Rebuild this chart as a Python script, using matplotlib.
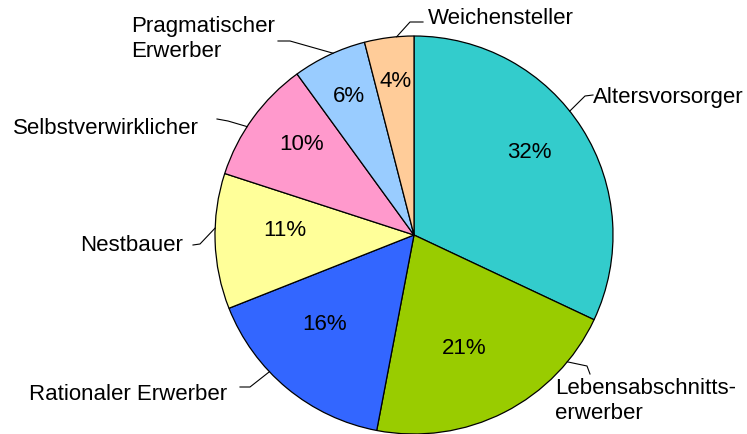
import numpy as np
import matplotlib.pyplot as plt

plt.rcParams['font.family'] = ['Liberation Sans', 'DejaVu Sans']

segmente = ['Altersvorsorger', 'Lebensabschnitts-\nerwerber', 'Rationaler Erwerber',
            'Nestbauer', 'Selbstverwirklicher', 'Pragmatischer\nErwerber', 'Weichensteller']
anteile = [32, 21, 16, 11, 10, 6, 4]
farben = ['#33CCCC', '#99CC00', '#3366FF', '#FFFF99', '#FF99CC', '#99CCFF', '#FFCC99']

# layout in pixel units (y measured from the bottom)
W, H = 747, 435
cx, cy, rad = 414, 199, 199
# percentage labels: radius fraction, angle shift from the wedge middle (deg)
pct_lage = [(0.72, 4.1), (0.61, -2.6), (0.625, -6.1), (0.65, -5.3),
            (0.735, -3.5), (0.78, -0.5), (0.79, -0.6)]
# label anchor (x, y, ha), angle where the leader meets the rim, knee, end
beschriftung = [
    ((593, 338, 'left'), 38.5, (585, 338), (593, 339)),
    ((555, 34, 'left'), -39.6, (587, 68), (590, 60)),
    ((29, 40, 'left'), 223.4, (250, 47), (240, 47)),
    ((183, 189, 'right'), 178, (200, 190), (193, 189)),
    ((13, 307, 'left'), 147, (228, 313), (217, 315)),
    ((131, 396, 'left'), 114, (290, 393), (278, 393)),
    ((428, 416, 'left'), 95, (410, 412), (423, 412)),
]

fig = plt.figure(figsize=(W / 100, H / 100), dpi=100)
ax = fig.add_axes([0, 0, 1, 1])

wedges, _ = ax.pie(anteile, colors=farben, startangle=90, counterclock=False,
                   center=(cx, cy), radius=rad,
                   wedgeprops=dict(edgecolor='black', linewidth=0.9))
ax.set_xlim(0, W)
ax.set_ylim(0, H)
ax.set_aspect('equal')
ax.axis('off')

for w, wert, (d, dw), lab, (txt, rand_w, knie, ende) in zip(
        wedges, anteile, pct_lage, segmente, beschriftung):
    mitte = np.deg2rad((w.theta1 + w.theta2) / 2 + dw)
    ax.text(cx + d * rad * np.cos(mitte), cy + d * rad * np.sin(mitte) - 2,
            f'{wert}%', ha='center', va='center', fontsize=16)
    a = np.deg2rad(rand_w)
    rand = (cx + rad * np.cos(a), cy + rad * np.sin(a))
    ax.plot([rand[0], knie[0], ende[0]], [rand[1], knie[1], ende[1]],
            color='black', linewidth=0.8)
    ax.text(txt[0], txt[1], lab, ha=txt[2], va='center', fontsize=16,
            linespacing=1.25)

fig.savefig('out.png', dpi=100)
